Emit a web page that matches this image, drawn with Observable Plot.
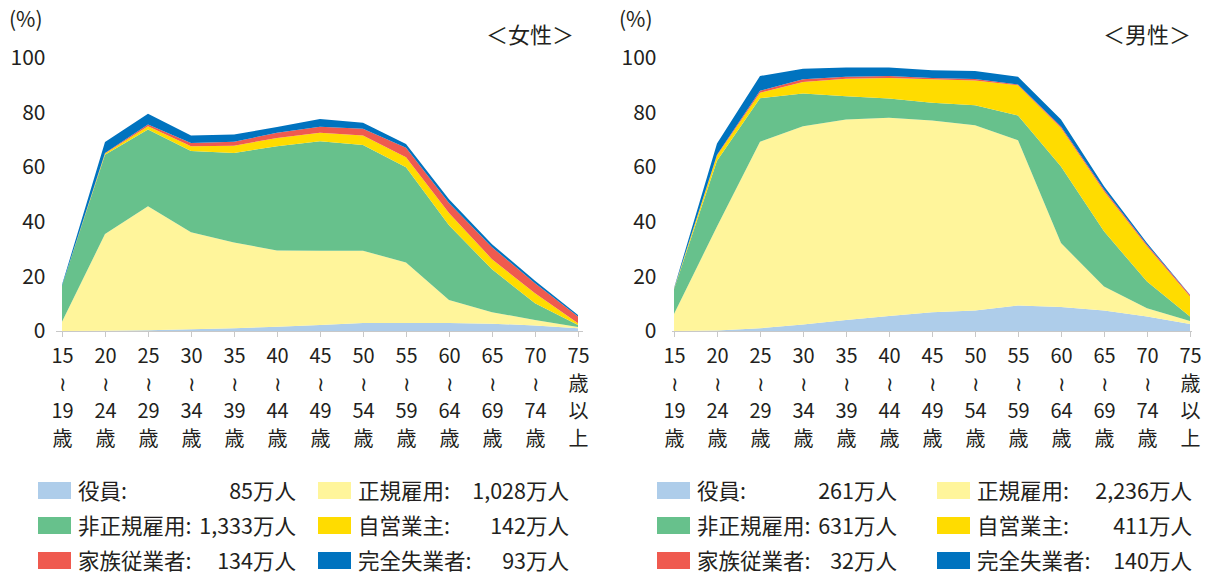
<!DOCTYPE html>
<html><head><meta charset="utf-8">
<script src="https://cdn.jsdelivr.net/npm/d3@7"></script>
<script src="https://cdn.jsdelivr.net/npm/@observablehq/plot@0.6"></script>
<style>
body{margin:0;background:#fff;width:1217px;height:573px;overflow:hidden;font-family:"Liberation Sans Narrow","Noto Sans CJK JP",sans-serif;color:#231f20;}
.panel{position:absolute;top:0;width:607px;height:573px;}
.unit{position:absolute;left:9px;top:4px;font-size:21px;line-height:28px;font-family:"Noto Sans CJK JP",sans-serif;}
.ttl{position:absolute;top:18px;font-size:22px;line-height:30px;font-family:"Noto Sans CJK JP",sans-serif;}
.leg{position:absolute;display:flex;align-items:center;font-size:21.5px;height:22px;line-height:22px;}
.sw{width:33px;height:17px;margin-right:7px;}
.lt{display:flex;justify-content:space-between;white-space:nowrap;}
</style></head>
<body>
<div id="root"></div>
<script>
const ages = ["15~19","20~24","25~29","30~34","35~39","40~44","45~49","50~54","55~59","60~64","65~69","70~74","75~"];
const tickLabels = ["15\n≀\n19\n歳","20\n≀\n24\n歳","25\n≀\n29\n歳","30\n≀\n34\n歳","35\n≀\n39\n歳","40\n≀\n44\n歳","45\n≀\n49\n歳","50\n≀\n54\n歳","55\n≀\n59\n歳","60\n≀\n64\n歳","65\n≀\n69\n歳","70\n≀\n74\n歳","75\n歳\n以\n上"];
const seriesNames = ["役員","正規雇用","非正規雇用","自営業主","家族従業者","完全失業者"];
const colors = ["#aecdea","#fff59b","#67c18c","#ffdc00","#ef5a4f","#0073bf"];
const yTicks = [0,20,40,60,80,100];

// Women (%)
const wYakuin   = [0,0.1,0.3,0.6,1.0,1.6,2.2,2.9,2.9,2.9,2.7,2.0,1.0];
const wSeiki    = [3.4,35.4,45.4,35.6,31.4,27.9,27.2,26.5,22.2,8.5,4.2,2.0,0.5];
const wHiseiki  = [13.2,29.1,28.1,29.7,32.8,38.2,40.1,38.7,34.9,27.3,15.7,6.2,0.7];
const wJiei     = [0,0.4,1.2,1.8,2.7,3.0,3.1,3.5,3.6,4.5,3.7,3.6,0.6];
const wKazoku   = [0,0.2,0.6,1.2,1.4,1.9,2.2,2.5,3.5,3.7,4.4,3.7,2.5];
const wShitsugyo= [0.3,4.0,4.0,2.7,2.7,2.1,2.9,2.2,1.4,1.4,1.1,0.9,0.6];
// Men (%)
const mYakuin   = [0,0.2,1.0,2.4,4.0,5.5,6.9,7.5,9.3,8.8,7.5,5.3,2.6];
const mSeiki    = [6.2,38.1,68.3,72.6,73.5,72.6,70.2,67.9,60.6,23.4,8.8,3.0,1.1];
const mHiseiki  = [9.1,24.1,16.0,12.0,8.5,7.1,6.5,7.3,9.0,28.1,20.2,9.8,1.6];
const mJiei     = [0.1,1.9,2.0,4.2,6.4,7.5,8.6,9.1,11.1,14.1,14.7,12.9,7.3];
const mKazoku   = [0.1,0.3,0.7,1.0,0.7,0.7,0.5,0.5,0.3,0.5,0.6,0.6,0.6];
const mShitsugyo= [0.2,4.1,5.4,3.9,3.4,3.1,2.8,2.9,2.8,2.6,1.2,0.6,0.1];

const wTotals = ["85万人","1,028万人","1,333万人","142万人","134万人","93万人"];
const mTotals = ["261万人","2,236万人","631万人","411万人","32万人","140万人"];

function tidy(arrs){
  const out=[];
  arrs.forEach((a,si)=>a.forEach((v,i)=>out.push({age:ages[i],series:seriesNames[si],value:v})));
  return out;
}

function chart(data, ml, mr, pad){
  return Plot.plot({
    width:607, height:460,
    marginLeft:ml, marginRight:mr, marginTop:58, marginBottom:129,
    style:{fontFamily:'"Liberation Sans Narrow","Noto Sans CJK JP",sans-serif',color:"#231f20",background:"transparent"},
    x:{type:"point", domain:ages, padding:0},
    y:{domain:[0,100]},
    color:{domain:seriesNames, range:colors},
    marks:[
      Plot.areaY(data,{x:"age",y:"value",fill:"series",order:seriesNames,curve:"linear"}),
      Plot.ruleY([0],{stroke:"#c8c8c8",strokeWidth:1.2}),
      Plot.axisY({ticks:yTicks,tickSize:0,tickPadding:pad,fontSize:21,label:null}),
      Plot.axisX({tickSize:6,stroke:"#c8c8c8",tickPadding:6,fontSize:20,lineHeight:1.38,label:null,
        tickFormat:d=>tickLabels[ages.indexOf(d)]})
    ]
  });
}

function panel(left, title, titleLeft, arrs, totals, ml, mr, pad, legPos){
  const p=document.createElement("div");
  p.className="panel"; p.style.left=left+"px";
  const svg=chart(tidy(arrs),ml,mr,pad);
  svg.style.position="absolute"; svg.style.left="0"; svg.style.top="0";
  p.appendChild(svg);
  const u=document.createElement("div"); u.className="unit"; u.textContent="(%)"; p.appendChild(u);
  const t=document.createElement("div"); t.className="ttl"; t.style.left=titleLeft+"px"; t.textContent=title; p.appendChild(t);
  const rows=[479,514,549];
  seriesNames.forEach((s,i)=>{
    const col=i%2, row=Math.floor(i/2);
    const lp=legPos[col];
    const d=document.createElement("div"); d.className="leg";
    d.style.left=lp.x+"px"; d.style.top=rows[row]+"px";
    const sw=document.createElement("div"); sw.className="sw"; sw.style.background=colors[i]; d.appendChild(sw);
    const lt=document.createElement("div"); lt.className="lt"; lt.style.width=lp.w+"px";
    const a=document.createElement("span"); a.textContent=s+":";
    const b=document.createElement("span"); b.textContent=totals[i];
    lt.appendChild(a); lt.appendChild(b); d.appendChild(lt);
    p.appendChild(d);
  });
  document.getElementById("root").appendChild(p);
}

panel(0,"＜女性＞",486,[wYakuin,wSeiki,wHiseiki,wJiei,wKazoku,wShitsugyo],wTotals,56,24,11,[{x:38,w:218},{x:318,w:211}]);
panel(610,"＜男性＞",493,[mYakuin,mSeiki,mHiseiki,mJiei,mKazoku,mShitsugyo],mTotals,62,25,16,[{x:47,w:200},{x:327,w:215}]);
</script>
</body></html>
